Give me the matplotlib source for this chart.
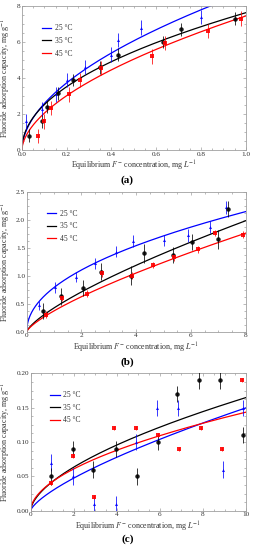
import numpy as np
import matplotlib
matplotlib.use("Agg")
import matplotlib.pyplot as plt
from matplotlib.ticker import MultipleLocator, AutoMinorLocator, FormatStrFormatter

plt.rcParams['font.family'] = ['Liberation Serif', 'DejaVu Serif']
plt.rcParams['mathtext.fontset'] = 'stix'
plt.rcParams['font.size'] = 6

labels = ['25 °C', '35 °C', '45 °C']
colors = ['#0000ff', '#000000', '#ff0000']
markers = ['^', 'o', 's']

# ---- panel (a)
a_x = [
    [0.02, 0.09, 0.15, 0.20, 0.28, 0.40, 0.43, 0.53, 0.80],
    [0.03, 0.09, 0.11, 0.16, 0.23, 0.35, 0.43, 0.63, 0.71, 0.95],
    [0.07, 0.10, 0.13, 0.21, 0.26, 0.355, 0.58, 0.64, 0.83, 0.98],
]
a_y = [
    [1.6, 2.3, 3.1, 3.9, 4.6, 5.3, 6.1, 6.8, 7.4],
    [0.8, 1.6, 2.4, 3.15, 3.9, 4.6, 5.3, 6.0, 6.7, 7.3],
    [0.8, 1.6, 2.35, 3.1, 3.9, 4.55, 5.2, 5.95, 6.6, 7.3],
]
a_err = [0.4, 0.35, 0.4]
a_K = [8.77, 7.63, 7.45]
a_n = [0.53, 0.48, 0.56]

# ---- panel (b)
b_x = [
    [0.45, 1.05, 1.8, 2.5, 3.25, 3.9, 5.0, 5.9, 6.7, 7.3],
    [0.6, 1.25, 2.05, 2.7, 3.8, 4.3, 5.35, 6.05, 7.0, 7.35],
    [0.7, 1.3, 2.2, 2.75, 3.85, 4.6, 5.4, 6.25, 6.9, 7.9],
]
b_y = [
    [0.47, 0.79, 0.98, 1.22, 1.43, 1.62, 1.63, 1.72, 1.87, 2.22],
    [0.37, 0.63, 0.78, 1.07, 1.0, 1.4, 1.37, 1.6, 1.65, 2.19],
    [0.3, 0.6, 0.68, 1.04, 1.0, 1.19, 1.33, 1.47, 1.76, 1.73],
]
b_err = [
    [0.08, 0.1, 0.09, 0.1, 0.1, 0.1, 0.1, 0.12, 0.1, 0.12],
    [0.15, 0.15, 0.15, 0.15, 0.17, 0.17, 0.15, 0.15, 0.17, 0.15],
    [0.06, 0.06, 0.06, 0.06, 0.06, 0.06, 0.06, 0.06, 0.06, 0.06],
]
b_K = [0.79, 0.425, 0.372]
b_n = [0.48, 0.74, 0.747]

# ---- panel (c)
c_x = [
    [0.95, 1.95, 2.95, 3.95, 4.9, 5.85, 6.85, 8.95, 9.85],
    [0.95, 1.95, 2.9, 3.95, 4.95, 5.9, 6.8, 7.8, 8.8, 9.85],
    [0.95, 1.95, 2.95, 3.85, 4.9, 5.9, 6.9, 7.9, 8.9, 9.8],
]
c_y = [
    [0.07, 0.05, 0.01, 0.01, 0.10, 0.15, 0.15, 0.06, 0.15],
    [0.05, 0.09, 0.06, 0.09, 0.05, 0.10, 0.17, 0.19, 0.19, 0.11],
    [0.04, 0.08, 0.02, 0.12, 0.12, 0.11, 0.09, 0.12, 0.09, 0.19],
]
c_err = [0.012, 0.012, 0.003]
c_K = [0.0289, 0.042, 0.042]
c_n = [0.715, 0.594, 0.534]

W, H = 255, 550
fig = plt.figure(figsize=(W / 100, H / 100), dpi=100)

panels = [
    dict(rect=[0.086, 0.727, 0.878, 0.262], xs=a_x, ys=a_y, err=a_err, K=a_K, n=a_n,
         xlim=(0, 1.0), ylim=(0, 8), xmaj=0.2, ymaj=2, xfmt='%.1f', yfmt='%d',
         cap='(a)', capy=180.5, xly=166),
    dict(rect=[0.105, 0.397, 0.858, 0.2545], xs=b_x, ys=b_y, err=b_err, K=b_K, n=b_n,
         xlim=(0, 8), ylim=(0, 2.5), xmaj=2, ymaj=0.5, xfmt='%d', yfmt='%.1f',
         cap='(b)', capy=362, xly=347.5),
    dict(rect=[0.12, 0.0715, 0.845, 0.2495], xs=c_x, ys=c_y, err=c_err, K=c_K, n=c_n,
         xlim=(0, 10), ylim=(0, 0.2), xmaj=2, ymaj=0.05, xfmt='%d', yfmt='%.2f',
         cap='(c)', capy=539, xly=527.3),
]

msz = [2.2, 3.2, 3.2]
frame_col = '#a0a0a0'
txt_col = '#333333'
for p in panels:
    ax = fig.add_axes(p['rect'])
    xx = np.linspace(0, p['xlim'][1], 400)
    for i in range(3):
        ax.plot(xx, p['K'][i] * xx ** p['n'][i], color=colors[i], lw=0.9, label=labels[i], zorder=2)
    for i in range(3):
        ax.errorbar(p['xs'][i], p['ys'][i], yerr=p['err'][i], fmt=markers[i], ms=msz[i],
                    color=colors[i], ecolor=colors[i], elinewidth=0.6, capsize=1.2,
                    capthick=0.6, mew=0, alpha=0.9, zorder=3)
    ax.set_xlim(*p['xlim'])
    ax.set_ylim(*p['ylim'])
    ax.xaxis.set_major_locator(MultipleLocator(p['xmaj']))
    ax.yaxis.set_major_locator(MultipleLocator(p['ymaj']))
    ax.xaxis.set_minor_locator(AutoMinorLocator(4))
    ax.yaxis.set_minor_locator(AutoMinorLocator(4))
    ax.xaxis.set_major_formatter(FormatStrFormatter(p['xfmt']))
    ax.yaxis.set_major_formatter(FormatStrFormatter(p['yfmt']))
    ax.tick_params(which='both', direction='in', top=True, right=True, color=frame_col,
                   width=0.5, labelsize=5.2, labelcolor=txt_col, pad=1.2)
    ax.tick_params(which='major', length=2.5)
    ax.tick_params(which='minor', length=1.3)
    for s in ax.spines.values():
        s.set_color(frame_col)
        s.set_linewidth(0.6)
    left_px = p['rect'][0] * W
    w_px = p['rect'][2] * W
    bot_px = H * (1 - p['rect'][1])
    h_px = p['rect'][3] * H
    ax.set_ylabel('Fluoride adsorption capacity, mg g$^{-1}$', fontsize=5.8, color=txt_col)
    ax.yaxis.set_label_coords((6 - left_px) / w_px, 0.5)
    ax.set_xlabel('Equilibrium $F^{-}$ concentration, mg $L^{-1}$', fontsize=5.8, color=txt_col)
    ax.xaxis.set_label_coords(0.5, (bot_px - p['xly']) / h_px)
    ax.xaxis.label.set_va('center')
    ax.yaxis.label.set_va('center')
    leg = ax.legend(loc='upper left', bbox_to_anchor=(0.06, 0.92), frameon=False, fontsize=5.5,
                    handlelength=1.2, handletextpad=0.5, labelspacing=0.6)
    for t in leg.get_texts():
        t.set_color(txt_col)
    fig.text(0.5, 1 - p['capy'] / H, p['cap'], ha='center', va='center', fontsize=8,
             fontweight='bold')

fig.savefig('out.png', dpi=100)
